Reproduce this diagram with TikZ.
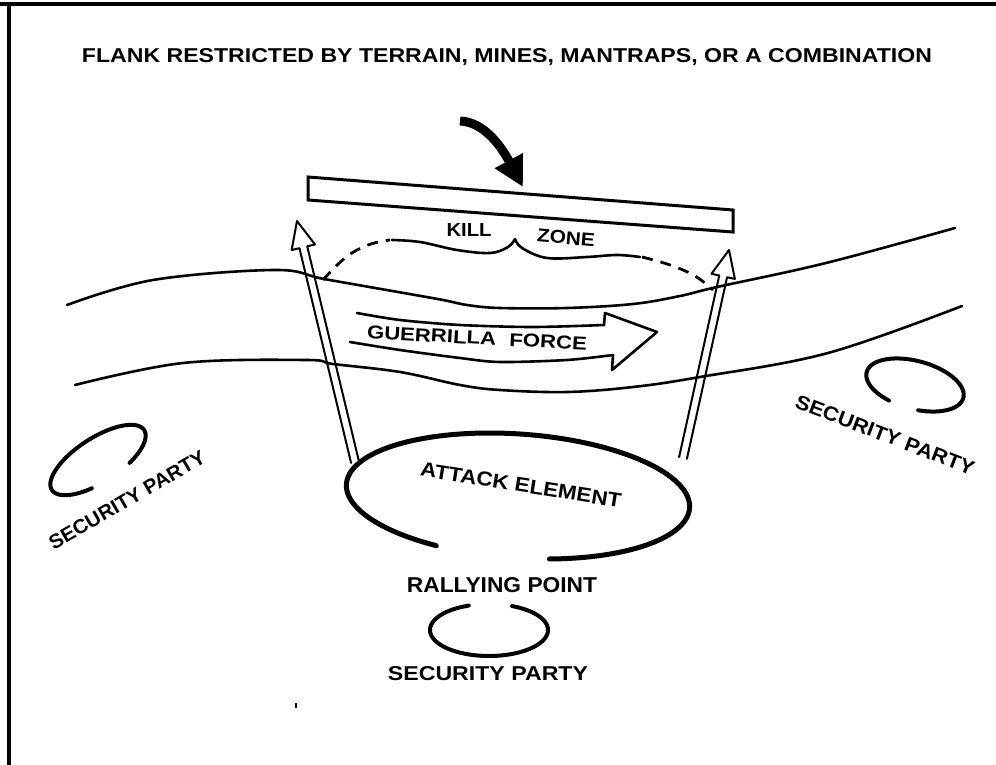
\documentclass[tikz,border=0pt]{standalone}
\usepackage{graphicx}
\usepackage{fontspec}
\setmainfont{Liberation Sans}
\usetikzlibrary{calc,arrows.meta}
\newcommand{\fitlab}[3]{\resizebox{#1pt}{#2pt}{\bfseries #3}}
\newcommand{\ellarc}[8]{\draw[#8] plot[domain=#6:#7, samples=120, variable=\t, smooth] ({#1+#3*cos(\t)*cos(#5)-#4*sin(\t)*sin(#5)},{#2+#3*cos(\t)*sin(#5)+#4*sin(\t)*cos(#5)});}
\newcommand{\hollowarr}[3]{%
  \coordinate (#1T) at #2;
  \coordinate (#1P) at #3;
  \coordinate (#1B) at ($(#1P)!27pt!(#1T)$);
  \draw[ink, line width=2pt]
    ($(#1T)!4pt!90:(#1P)$) -- ($(#1B)!4pt!90:(#1P)$) -- ($(#1B)!12pt!90:(#1P)$) -- (#1P)
    -- ($(#1B)!12pt!-90:(#1P)$) -- ($(#1B)!4pt!-90:(#1P)$) -- ($(#1T)!4pt!-90:(#1P)$);
}
\begin{document}
\begin{tikzpicture}[x=1pt,y=-1pt,
  lbl/.style={inner sep=0pt, outer sep=0pt},
  ink/.style={line width=2.6pt, line cap=round, line join=round},
  thickink/.style={line width=5pt, line cap=round},
  partyink/.style={line width=4pt, line cap=round},
  dashink/.style={line width=2.8pt, dash pattern=on 11pt off 8pt},
  framerule/.style={line width=4pt}]
\useasboundingbox (0,0) rectangle (996,765);
\fill[white] (0,0) rectangle (996,765);

% frame
\draw[framerule] (0,4) -- (996,4);
\draw[framerule] (9,4) -- (9,765);

% title
\node[lbl] (title) at (507,57) {\fitlab{850}{14}{FLANK RESTRICTED BY TERRAIN, MINES, MANTRAPS, OR A COMBINATION}};

% curved black arrow
\coordinate (arrtail) at (460,121);
\coordinate (arrtip) at (523,187);
\draw[line width=9pt, -{Triangle[length=30pt,width=30pt]}] (arrtail) .. controls (485,122) and (502,148) .. (arrtip);

% flank rectangle
\draw[line width=3pt, line join=miter] (308,177) -- (733,210) -- (733,232) -- (308,200) -- cycle;

% river banks
\draw[ink] plot[smooth, tension=0.6] coordinates {(67,305) (153,280) (275,270) (324,279) (398,292) (443,300) (467,305) (500,308) (567,308) (633,304) (680,296) (717,287) (826,263) (955,228)};
\draw[ink] plot[smooth, tension=0.6] coordinates {(75,385) (183,363) (306,360) (333,364) (400,372) (460,385) (500,390) (567,392) (633,387) (700,377) (828,353) (962,306)};

% kill zone brace and dashes
\draw[ink] plot[smooth, tension=0.6] coordinates {(392,240) (420,242) (457,250) (490,253) (508,247) (515,239)};
\draw[ink] plot[smooth, tension=0.6] coordinates {(515,239) (522,248) (547,258) (587,257) (617,255) (640,257)};
\draw[dashink] plot[smooth, tension=0.7] coordinates {(323,280) (345,258) (368,245) (390,240)};
\draw[dashink] plot[smooth, tension=0.7] coordinates {(642,257) (670,265) (695,276) (713,290)};
\node[lbl] (kill) at (469,230) {\fitlab{45}{13}{KILL}};
\node[lbl, rotate=-5] (zone) at (566,238) {\fitlab{58}{13}{ZONE}};

% hollow arrows
\hollowarr{la}{(355,462)}{(297,221)}
\hollowarr{ra}{(683,458)}{(729,250)}

% guerrilla force arrow
\draw[ink] plot[smooth, tension=0.5] coordinates {(357,313) (400,320) (460,325) (533,327) (604,325)};
\draw[ink] (604,325) -- (605,313) -- (657,332) -- (612,370) -- (613,355);
\draw[ink] plot[smooth, tension=0.5] coordinates {(613,355) (567,360) (500,362) (460,358) (400,350) (350,342)};
\node[lbl, rotate=-3] (gf) at (477,338) {\fitlab{220}{13}{GUERRILLA\hspace{0.6em}FORCE}};

% attack element
\ellarc{518}{496}{172}{62}{4}{117}{438}{thickink}
\node[lbl, rotate=-9] (attack) at (521,485) {\fitlab{203}{14}{ATTACK ELEMENT}};
\node[lbl] (rally) at (502,585) {\fitlab{190}{15}{RALLYING POINT}};

% security parties
\ellarc{489}{630}{59}{26}{0}{293}{610}{partyink}
\node[lbl] (sp3) at (488,674) {\fitlab{200}{14}{SECURITY PARTY}};

\ellarc{98}{460}{55}{22}{-33}{112}{423}{partyink}
\node[lbl, rotate=30] (sp1) at (127,500) {\fitlab{177}{14}{SECURITY PARTY}};

\ellarc{915}{385}{50}{24}{15}{115}{439}{partyink}
\node[lbl, rotate=-21] (sp2) at (885,435) {\fitlab{190}{14}{SECURITY PARTY}};

% speck
\fill (295,703) rectangle (297,708);
\end{tikzpicture}
\end{document}
